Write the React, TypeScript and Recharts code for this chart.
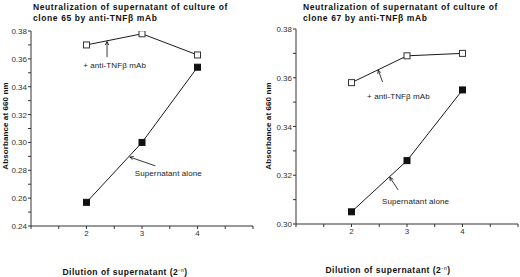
import React from "react";
import {
  LineChart,
  Line,
  XAxis,
  YAxis,
  ReferenceLine,
  ReferenceDot,
} from "recharts";

// ---------- data ----------
const dilutions = [2, 3, 4];
const clone65WithAb = [0.37, 0.378, 0.3628];
const clone65Alone = [0.257, 0.3, 0.354];
const clone67WithAb = [0.358, 0.369, 0.37];
const clone67Alone = [0.305, 0.326, 0.355];

const xTicks = [1, 1.5, 2, 2.5, 3, 3.5, 4, 4.5, 5];
const xLabelled = [2, 3, 4];
const yTicks65 = [0.24, 0.25, 0.26, 0.27, 0.28, 0.29, 0.3, 0.31, 0.32, 0.33, 0.34, 0.35, 0.36, 0.37, 0.38];
const yLabelled65 = [0.24, 0.26, 0.28, 0.3, 0.32, 0.34, 0.36, 0.38];
const yTicks67 = [0.3, 0.31, 0.32, 0.33, 0.34, 0.35, 0.36, 0.37, 0.38];
const yLabelled67 = [0.3, 0.32, 0.34, 0.36, 0.38];

const titles65 = ["Neutralization of supernatant of culture of", "clone 65 by anti-TNF\u03b2 mAb"];
const titles67 = ["Neutralization of supernatant of culture of", "clone 67 by anti-TNF\u03b2 mAb"];
const yLabel = "Absorbance at 660 nm";
const xLabelMain = "Dilution of supernatant (2";
const xLabelSup = "-n";
const abLabel = "+ anti-TNF\u03b2 mAb";
const aloneLabel = "Supernatant alone";

// annotations in data coordinates
const ann65 = {
  abArrow: [{ x: 2.37, y: 0.3612 }, { x: 2.37, y: 0.3725 }],
  abText: { x: 1.94, y: 0.3535 },
  aloneArrow: [{ x: 3.24, y: 0.2832 }, { x: 2.78, y: 0.2895 }],
  aloneText: { x: 2.87, y: 0.2762 },
};
const ann67 = {
  abArrow: [{ x: 2.56, y: 0.3583 }, { x: 2.48, y: 0.3632 }],
  abText: { x: 2.28, y: 0.3513 },
  aloneArrow: [{ x: 2.84, y: 0.314 }, { x: 2.69, y: 0.3192 }],
  aloneText: { x: 2.55, y: 0.3082 },
};

const build = (a: number[], b: number[]) =>
  dilutions.map((d, i) => ({ x: d, ab: a[i], alone: b[i] }));

const FONT = "'Liberation Sans', Arial, Helvetica, sans-serif";
const INK = "#1a1a1a";

const Square = (filled: boolean) => (props: any) => {
  const { cx, cy } = props;
  if (cx == null || cy == null) return null;
  const s = 6;
  return (
    <rect
      x={cx - s / 2}
      y={cy - s / 2}
      width={s}
      height={s}
      fill={filled ? "#111" : "#fff"}
      stroke={filled ? "#111" : "#333"}
      strokeWidth={1}
    />
  );
};

const YTick = (labelled: number[]) => (props: any) => {
  const { x, y, payload } = props;
  const v = payload.value;
  if (!labelled.some((l) => Math.abs(l - v) < 1e-6)) return <g />;
  return (
    <text x={x} y={y} dy={3} textAnchor="end" fontSize={8} fontFamily={FONT} fill="#333">
      {v.toFixed(2)}
    </text>
  );
};

const XTick = (props: any) => {
  const { x, y, payload } = props;
  const v = payload.value;
  if (!xLabelled.includes(v)) return <g />;
  return (
    <text x={x} y={y} dy={4.5} textAnchor="middle" fontSize={8} fontFamily={FONT} fill="#333">
      {v}
    </text>
  );
};

const arrowShape = (props: any) => {
  const { x1, y1, x2, y2 } = props;
  if ([x1, y1, x2, y2].some((v) => v == null || isNaN(v))) return <g />;
  const ang = Math.atan2(y2 - y1, x2 - x1);
  const L = 4;
  const a1 = ang + Math.PI - 0.45;
  const a2 = ang + Math.PI + 0.45;
  return (
    <g stroke="#222" strokeWidth={0.9} fill="none">
      <line x1={x1} y1={y1} x2={x2} y2={y2} />
      <polyline
        points={`${x2 + L * Math.cos(a1)},${y2 + L * Math.sin(a1)} ${x2},${y2} ${x2 + L * Math.cos(a2)},${y2 + L * Math.sin(a2)}`}
      />
    </g>
  );
};

const textShape = (label: string) => (props: any) => {
  const { cx, cy } = props;
  return (
    <text x={cx} y={cy} fontSize={8} fontFamily={FONT} fill="#222" letterSpacing={0.1}>
      {label}
    </text>
  );
};

type PanelProps = {
  data: any[];
  yDomain: [number, number];
  yTicks: number[];
  yLabelled: number[];
  ann: any;
  yWidth: number;
  margin: any;
};

const Panel = ({ data, yDomain, yTicks, yLabelled, ann, yWidth, margin }: PanelProps) => (
  <LineChart width={260} height={277} data={data} margin={margin}>
    <XAxis
      dataKey="x"
      type="number"
      domain={[1, 5]}
      ticks={xTicks}
      interval={0}
      height={20}
      tickSize={3}
      tick={XTick}
      axisLine={{ stroke: "#333" }}
      tickLine={{ stroke: "#333" }}
      allowDataOverflow
    />
    <YAxis
      type="number"
      domain={yDomain}
      ticks={yTicks}
      interval={0}
      width={yWidth}
      tickSize={3}
      tickMargin={1}
      tick={YTick(yLabelled)}
      axisLine={{ stroke: "#333" }}
      tickLine={{ stroke: "#333" }}
      allowDataOverflow
    />
    <Line
      dataKey="ab"
      stroke={INK}
      strokeWidth={1}
      isAnimationActive={false}
      dot={Square(false)}
      activeDot={false}
    />
    <Line
      dataKey="alone"
      stroke={INK}
      strokeWidth={1}
      isAnimationActive={false}
      dot={Square(true)}
      activeDot={false}
    />
    <ReferenceLine segment={ann.abArrow} shape={arrowShape} ifOverflow="visible" />
    <ReferenceLine segment={ann.aloneArrow} shape={arrowShape} ifOverflow="visible" />
    <ReferenceDot x={ann.abText.x} y={ann.abText.y} r={0} shape={textShape(abLabel)} ifOverflow="visible" />
    <ReferenceDot x={ann.aloneText.x} y={ann.aloneText.y} r={0} shape={textShape(aloneLabel)} ifOverflow="visible" />
  </LineChart>
);

const Title = ({ x, lines }: { x: number; lines: string[] }) => (
  <>
    {lines.map((l, i) => (
      <text
        key={i}
        x={x}
        y={9.5 + i * 11.5}
        fontSize={8.5}
        fontWeight="bold"
        fontFamily={FONT}
        letterSpacing={0.6}
        fill="#111"
      >
        {l}
      </text>
    ))}
  </>
);

const YLabel = ({ cx, cy }: { cx: number; cy: number }) => (
  <text
    x={cx}
    y={cy}
    transform={`rotate(-90 ${cx} ${cy})`}
    textAnchor="middle"
    dominantBaseline="central"
    fontSize={8}
    fontWeight="bold"
    fontFamily={FONT}
    letterSpacing={0.1}
    fill="#111"
  >
    {yLabel}
  </text>
);

const XLabel = ({ cx, y }: { cx: number; y: number }) => (
  <text
    x={cx}
    y={y}
    textAnchor="middle"
    fontSize={8.5}
    fontWeight="bold"
    fontFamily={FONT}
    letterSpacing={0.5}
    fill="#111"
  >
    {xLabelMain}
    <tspan dy={-3} fontSize={5.5} fontWeight="normal">
      {xLabelSup}
    </tspan>
    <tspan dy={3}>)</tspan>
  </text>
);

export default function App() {
  return (
    <div
      style={{
        position: "absolute",
        left: 0,
        top: 0,
        width: 520,
        height: 277,
        background: "#fff",
        overflow: "hidden",
      }}
    >
      <div style={{ position: "absolute", left: 0, top: 0 }}>
        <Panel
          data={build(clone65WithAb, clone65Alone)}
          yDomain={[0.24, 0.38]}
          yTicks={yTicks65}
          yLabelled={yLabelled65}
          ann={ann65}
          yWidth={31}
          margin={{ top: 31, right: 7, bottom: 31, left: 0 }}
        />
      </div>
      <div style={{ position: "absolute", left: 260, top: 0 }}>
        <Panel
          data={build(clone67WithAb, clone67Alone)}
          yDomain={[0.3, 0.38]}
          yTicks={yTicks67}
          yLabelled={yLabelled67}
          ann={ann67}
          yWidth={36}
          margin={{ top: 29, right: 2, bottom: 33, left: 0 }}
        />
      </div>
      <svg
        width={520}
        height={277}
        style={{ position: "absolute", left: 0, top: 0, pointerEvents: "none" }}
      >
        <Title x={33} lines={titles65} />
        <Title x={303} lines={titles67} />
        <YLabel cx={5.5} cy={126} />
        <YLabel cx={268.5} cy={126} />
        <XLabel cx={125} y={275} />
        <XLabel cx={388} y={273} />
      </svg>
    </div>
  );
}
